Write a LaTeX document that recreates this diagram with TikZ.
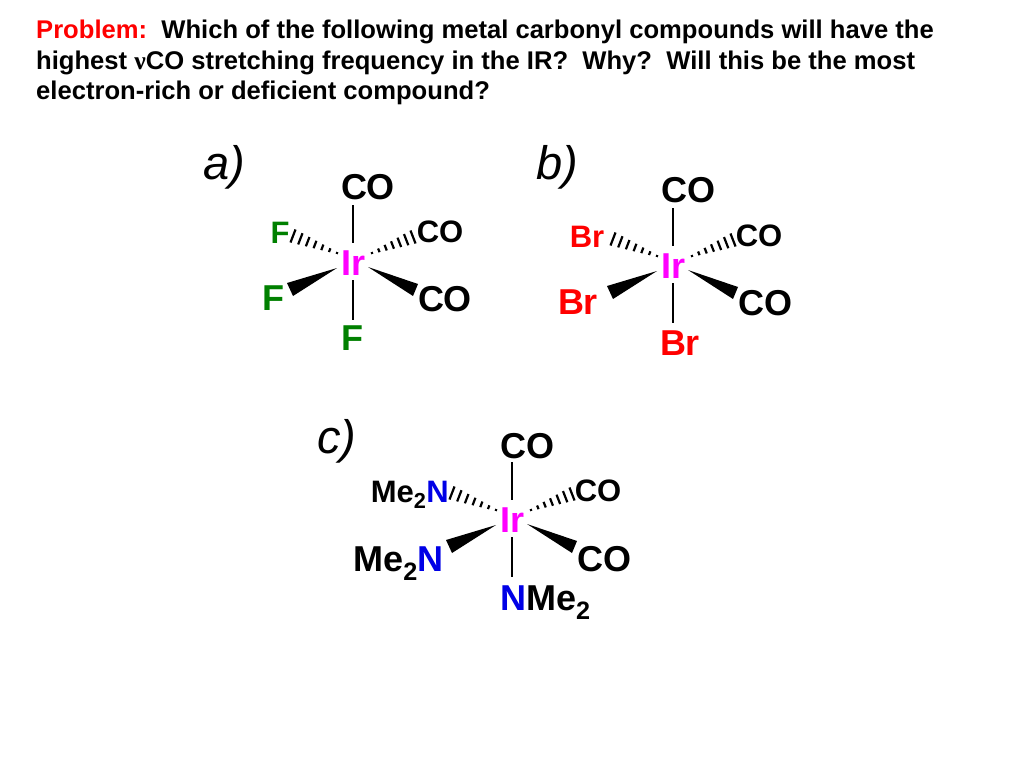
\documentclass[tikz,border=0pt]{standalone}
\usepackage{fontspec}
\setmainfont{Liberation Sans}
\newfontfamily\nufont{Liberation Serif}
\usetikzlibrary{calc}
\definecolor{irpink}{RGB}{255,0,255}
\definecolor{fgreen}{RGB}{0,128,0}
\definecolor{nblue}{RGB}{0,0,230}
\tikzset{
  bigl/.style={inner sep=0pt,font=\fontsize{36}{38}\selectfont\bfseries},
  midl/.style={inner sep=0pt,font=\fontsize{31}{34}\selectfont\bfseries},
  irl/.style={bigl,text=irpink},
  tagl/.style={inner sep=0pt,font=\fontsize{47}{50}\selectfont\itshape},
  bond/.style={line width=2pt,black},
  hash/.style={line width=2.2pt,black}
}
% hashed bond, tip to far end
\newcommand{\hashbond}[2]{%
  \coordinate (hr) at ($(#1)!1.2!(#2)$);
  \foreach \t in {0,...,6}{%
    \pgfmathsetmacro{\w}{1+\t}
    \coordinate (hc) at ($(#1)!\t/6!(#2)$);
    \draw[hash] ($(hc)!\w pt!90:(hr)$) -- ($(hc)!\w pt!-90:(hr)$);
  }%
}
% six bonds round one Ir node
\newcommand{\irbonds}[1]{%
  \coordinate (#1t1) at ([shift={(0,-58)}]#1Ir);
  \coordinate (#1t2) at ([shift={(0,-20)}]#1Ir);
  \coordinate (#1b1) at ([shift={(0,17)}]#1Ir);
  \coordinate (#1b2) at ([shift={(0,57)}]#1Ir);
  \coordinate (#1hl1) at ([shift={(-16,-10)}]#1Ir);
  \coordinate (#1hl2) at ([shift={(-60,-27)}]#1Ir);
  \coordinate (#1hr1) at ([shift={(19,-10)}]#1Ir);
  \coordinate (#1hr2) at ([shift={(60,-26)}]#1Ir);
  \coordinate (#1wl1) at ([shift={(-16,5)}]#1Ir);
  \coordinate (#1wl2) at ([shift={(-66,20)}]#1Ir);
  \coordinate (#1wl3) at ([shift={(-60,33)}]#1Ir);
  \coordinate (#1wr1) at ([shift={(15,4)}]#1Ir);
  \coordinate (#1wr2) at ([shift={(65,21)}]#1Ir);
  \coordinate (#1wr3) at ([shift={(60,33)}]#1Ir);
  \draw[bond] (#1t1) -- (#1t2);
  \draw[bond] (#1b1) -- (#1b2);
  \hashbond{#1hl1}{#1hl2}
  \hashbond{#1hr1}{#1hr2}
  \fill (#1wl1) -- (#1wl2) -- (#1wl3) -- cycle;
  \fill (#1wr1) -- (#1wr2) -- (#1wr3) -- cycle;
}
\begin{document}
\begin{tikzpicture}[x=1pt,y=-1pt]
  \useasboundingbox (0,0) rectangle (1024,768);

  \node[anchor=north west,inner sep=0pt,align=left,font=\fontsize{25.6}{30.5}\selectfont\bfseries] (question) at (36,20)
    {\textcolor{red}{Problem:}\ \ Which of the following metal carbonyl compounds will have the\\
     highest {\nufont ν}CO stretching frequency in the IR?\ \ Why?\ \ Will this be the most\\
     electron-rich or deficient compound?};

  % a)
  \node[tagl] (atag) at (224,167) {a)};
  \node[irl] (aIr) at (353,263) {Ir};
  \node[bigl] (aCO1) at (368,187) {CO};
  \node[midl] (aCO2) at (440,232) {CO};
  \node[bigl] (aCO3) at (445,299) {CO};
  \node[midl,text=fgreen] (aF1) at (280,233) {F};
  \node[bigl,text=fgreen] (aF2) at (273,298) {F};
  \node[bigl,text=fgreen] (aF3) at (352,338) {F};
  \irbonds{a}

  % b)
  \node[tagl] (btag) at (557,167) {b)};
  \node[irl] (bIr) at (673,266) {Ir};
  \node[bigl] (bCO1) at (688,190) {CO};
  \node[midl] (bCO2) at (759,236) {CO};
  \node[bigl] (bCO3) at (765,303) {CO};
  \node[midl,text=red] (bBr1) at (587,237) {Br};
  \node[bigl,text=red] (bBr2) at (578,302) {Br};
  \node[bigl,text=red] (bBr3) at (680,343) {Br};
  \irbonds{b}

  % c)
  \node[tagl] (ctag) at (337,441) {c)};
  \node[irl] (cIr) at (512,520) {Ir};
  \node[bigl] (cCO1) at (527,446) {CO};
  \node[midl] (cCO2) at (598,491) {CO};
  \node[bigl] (cCO3) at (604,559) {CO};
  \node[midl,anchor=base east] (cN1) at (449,502) {Me\textsubscript{2}\textcolor{nblue}{N}};
  \node[bigl,anchor=base east] (cN2) at (444,571) {Me\textsubscript{2}\textcolor{nblue}{N}};
  \node[bigl,anchor=base west] (cN3) at (500,610) {\textcolor{nblue}{N}Me\textsubscript{2}};
  \irbonds{c}
\end{tikzpicture}
\end{document}
